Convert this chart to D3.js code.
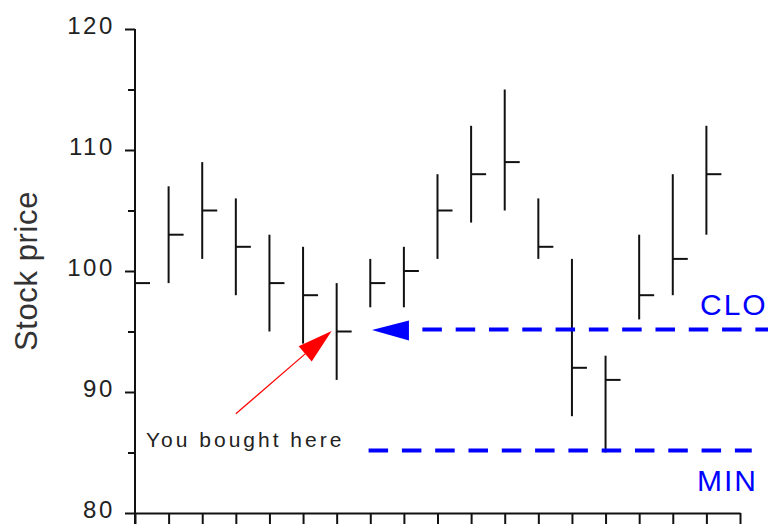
<!DOCTYPE html>
<meta charset="utf-8">
<script src="https://d3js.org/d3.v7.min.js"></script>
<style>
  body { margin: 0; background: #fff; }
  text { font-family: "Liberation Sans", Arial, sans-serif; }
</style>
<svg id="chart" width="768" height="524"></svg>
<script>

// Bar data: day index, high, low, close
var days   = [0, 1, 2, 3, 4, 5, 6, 7, 8, 9, 10, 11, 12, 13, 14, 15, 16, 17];
var highs  = [101, 107, 109, 106, 103, 102, 99, 101, 102, 108, 112, 115, 106, 101, 93, 103, 108, 112];
var lows   = [97, 99, 101, 98, 95, 94, 91, 97, 97, 101, 104, 105, 101, 88, 85, 96, 98, 103];
var closes = [99, 103, 105, 102, 99, 98, 95, 99, 100, 105, 108, 109, 102, 92, 91, 98, 101, 108];

var majorTicks = [80, 90, 100, 110, 120];
var minorTicks = [85, 95, 105, 115];

// Annotation values
var boughtDay = 6;
var cloValue = 95;
var minValue = 85;

var svg = d3.select("#chart");

var x = d3.scaleLinear().domain([0, 18]).range([135, 740]);
var y = d3.scaleLinear().domain([80, 120]).range([513, 29]);

var ink = "#111";

// y axis, major ticks with labels
var yAxis = svg.append("g")
    .attr("transform", "translate(" + x(0) + ",0)")
    .call(d3.axisLeft(y).tickValues(majorTicks).tickSize(10).tickSizeOuter(0).tickPadding(10));
yAxis.select(".domain").remove();
yAxis.selectAll("line").attr("stroke", ink).attr("stroke-width", 2);
yAxis.selectAll("text")
    .attr("dy", "4px")
    .style("font-size", "24px")
    .style("letter-spacing", "2.6px")
    .attr("fill", "#222");

// minor ticks
var yMinor = svg.append("g")
    .attr("transform", "translate(" + x(0) + ",0)")
    .call(d3.axisLeft(y).tickValues(minorTicks).tickSize(7).tickSizeOuter(0).tickFormat(""));
yMinor.select(".domain").remove();
yMinor.selectAll("line").attr("stroke", ink).attr("stroke-width", 2);

// x axis, ticks only
var xAxis = svg.append("g")
    .attr("transform", "translate(0," + y(80) + ")")
    .call(d3.axisBottom(x).tickValues(d3.range(19)).tickSize(11).tickSizeOuter(0).tickFormat(""));
xAxis.select(".domain").attr("stroke", ink).attr("stroke-width", 2);
xAxis.selectAll("line").attr("stroke", ink).attr("stroke-width", 2);

// vertical axis line (runs a bit below the x axis)
svg.append("line")
    .attr("x1", x(0)).attr("x2", x(0))
    .attr("y1", y(120)).attr("y2", y(80) + 11)
    .attr("stroke", ink).attr("stroke-width", 2);

// axis title
svg.append("text")
    .attr("transform", "translate(37," + y(100) + ") rotate(-90)")
    .attr("text-anchor", "middle")
    .style("font-size", "31px")
    .style("letter-spacing", "0.6px")
    .attr("fill", "#333")
    .text("Stock price");

// high-low-close bars
var bars = svg.append("g");
bars.selectAll("line.hl")
  .data(days)
  .enter()
  .append("line")
    .attr("class", "hl")
    .attr("x1", function(d){ return x(d) })
    .attr("x2", function(d){ return x(d) })
    .attr("y1", function(d){ return y(highs[d]) })
    .attr("y2", function(d){ return y(lows[d]) })
    .attr("stroke", ink).attr("stroke-width", 2);
bars.selectAll("line.cl")
  .data(days)
  .enter()
  .append("line")
    .attr("class", "cl")
    .attr("x1", function(d){ return x(d) })
    .attr("x2", function(d){ return x(d) + 15 })
    .attr("y1", function(d){ return y(closes[d]) })
    .attr("y2", function(d){ return y(closes[d]) })
    .attr("stroke", ink).attr("stroke-width", 2);

// blue dashed lines
svg.append("line")
    .attr("x1", x(8.55)).attr("x2", 768)
    .attr("y1", y(cloValue) - 2).attr("y2", y(cloValue) - 2)
    .attr("stroke", "#0000ff").attr("stroke-width", 4)
    .attr("stroke-dasharray", "19.5,13.8");
svg.append("line")
    .attr("x1", x(6.95)).attr("x2", x(18.35))
    .attr("y1", y(minValue) - 2).attr("y2", y(minValue) - 2)
    .attr("stroke", "#0000ff").attr("stroke-width", 4)
    .attr("stroke-dasharray", "19.5,13.8");

// blue arrow head pointing at the close
var tipX = x(boughtDay + 1.05), tipY = y(cloValue) - 1.5;
svg.append("path")
    .attr("d", "M" + tipX + "," + tipY +
               "L" + (tipX + 37) + "," + (tipY - 9.5) +
               "L" + (tipX + 37) + "," + (tipY + 10.5) + "Z")
    .attr("fill", "#0000ff");

svg.append("text")
    .attr("x", 700).attr("y", y(cloValue) - 17)
    .style("font-size", "30px")
    .style("letter-spacing", "2px")
    .attr("fill", "#0000ff")
    .text("CLO");
svg.append("text")
    .attr("x", 697).attr("y", y(minValue) + 38)
    .style("font-size", "30px")
    .style("letter-spacing", "2px")
    .attr("fill", "#0000ff")
    .text("MIN");

// red arrow to the buy point
var ax0 = x(3), ay0 = y(88.2);
var ax1 = x(boughtDay) - 5, ay1 = y(cloValue) - 0.5;
var ang = Math.atan2(ay1 - ay0, ax1 - ax0);
var hl = 35, hw = 10;
var bx = ax1 - hl * Math.cos(ang), by = ay1 - hl * Math.sin(ang);
svg.append("line")
    .attr("x1", ax0).attr("y1", ay0)
    .attr("x2", bx).attr("y2", by)
    .attr("stroke", "#ff0000").attr("stroke-width", 1.2);
svg.append("path")
    .attr("d", "M" + ax1 + "," + ay1 +
               "L" + (bx + hw * Math.sin(ang)) + "," + (by - hw * Math.cos(ang)) +
               "L" + (bx - hw * Math.sin(ang)) + "," + (by + hw * Math.cos(ang)) + "Z")
    .attr("fill", "#ff0000");

svg.append("text")
    .attr("x", x(0) + 11).attr("y", y(minValue) - 6)
    .style("font-size", "21px")
    .style("letter-spacing", "3px")
    .attr("fill", "#222")
    .text("You bought here");

</script>
